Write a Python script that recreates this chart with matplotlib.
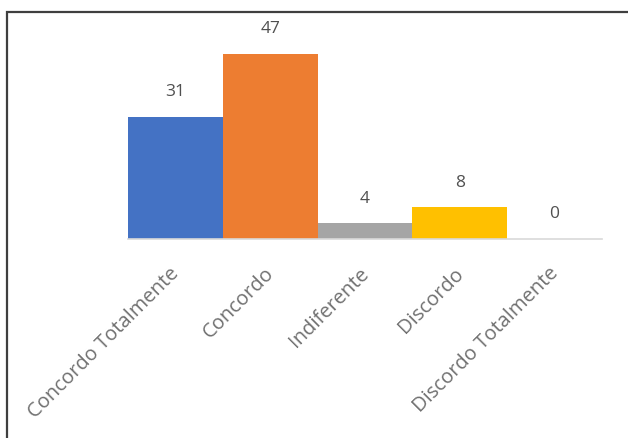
import matplotlib.pyplot as plt
from matplotlib.patches import Rectangle
from matplotlib.transforms import ScaledTranslation

categorias = ["Concordo Totalmente", "Concordo", "Indiferente", "Discordo", "Discordo Totalmente"]
respostas = [31, 47, 4, 8, 0]
cores = ["#4472C4", "#ED7D31", "#A5A5A5", "#FFC000", "#5B9BD5"]

plt.rcParams['font.family'] = ['Open Sans', 'DejaVu Sans']

fig = plt.figure(figsize=(6.28, 4.39), dpi=100)
ax = fig.add_axes([128 / 628, 1 - 240 / 439, 474 / 628, 197 / 439])

x = range(len(categorias))
ax.bar(x, respostas, width=1.0, color=cores)
ax.set_xlim(-0.5, len(categorias) - 0.5)
ax.set_ylim(0, 50)

# rotulos de valor acima das barras
for i, v in enumerate(respostas):
    ax.annotate(str(v), (i, v), xytext=(0, 18.5), textcoords="offset points",
                ha="center", va="center", fontsize=12.5, color="#505050")

ax.set_xticks(list(x))
ax.set_xticklabels(categorias, rotation=45, ha="right", rotation_mode="anchor",
                   fontsize=14.5, color="#707070")
ax.tick_params(axis="x", length=0, pad=17)
# desloca um pouco os rotulos para a esquerda
desloc = ScaledTranslation(-6 / 100, 0, fig.dpi_scale_trans)
for lbl in ax.get_xticklabels():
    lbl.set_transform(lbl.get_transform() + desloc)
ax.set_yticks([])
for s in ["top", "right", "left"]:
    ax.spines[s].set_visible(False)
ax.spines["bottom"].set_color("#D9D9D9")
ax.spines["bottom"].set_linewidth(1.2)

# moldura do grafico
moldura = Rectangle((7 / 628, -0.2), 1.2, 1.2 - 13 / 439, transform=fig.transFigure,
                    fill=False, edgecolor="#3F3F3F", linewidth=1.6, clip_on=False)
fig.add_artist(moldura)

fig.savefig("out.png", dpi=100)
